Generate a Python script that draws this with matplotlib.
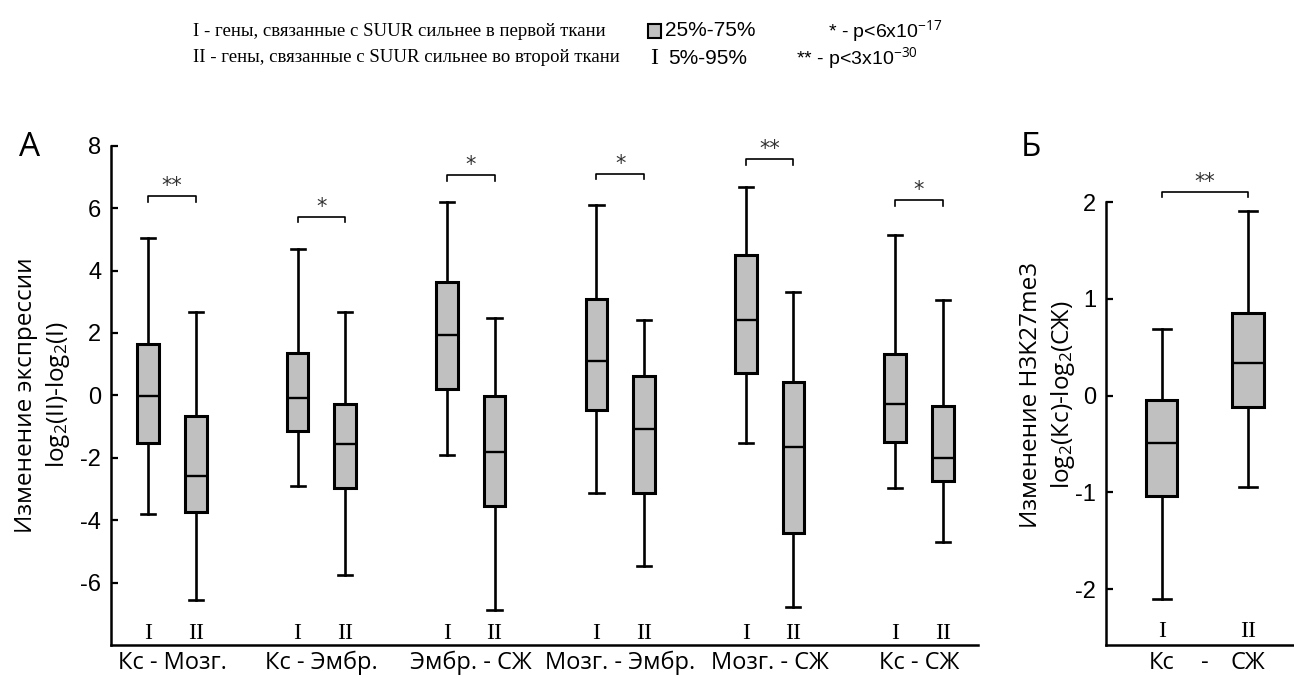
import matplotlib.pyplot as plt
from matplotlib.patches import Rectangle

plt.rcParams['mathtext.fontset'] = 'custom'
plt.rcParams['mathtext.rm'] = 'Open Sans'
plt.rcParams['mathtext.it'] = 'Open Sans:italic'
plt.rcParams['axes.unicode_minus'] = False

# данные: [нижний ус 5%, 25%, медиана, 75%, верхний ус 95%]
pairs = ['Кс - Мозг.', 'Кс - Эмбр.', 'Эмбр. - СЖ', 'Мозг. - Эмбр.', 'Мозг. - СЖ', 'Кс - СЖ']
genes_I = [[-3.80, -1.52, -0.02, 1.65, 5.05],
           [-2.92, -1.13, -0.07, 1.36, 4.70],
           [-1.92, 0.19, 1.92, 3.62, 6.18],
           [-3.12, -0.46, 1.09, 3.08, 6.10],
           [-1.52, 0.71, 2.40, 4.51, 6.69],
           [-2.98, -1.49, -0.27, 1.33, 5.14]]
genes_II = [[-6.55, -3.73, -2.57, -0.67, 2.67],
            [-5.76, -2.98, -1.56, -0.29, 2.67],
            [-6.89, -3.56, -1.83, -0.02, 2.47],
            [-5.48, -3.14, -1.09, 0.61, 2.40],
            [-6.79, -4.41, -1.67, 0.44, 3.32],
            [-4.71, -2.73, -2.01, -0.35, 3.04]]
signif = ['**', '*', '*', '*', '**', '*']
bracket_y = [6.38, 5.73, 7.05, 7.10, 7.56, 6.26]

h3_labels = ['Кс', 'СЖ']
h3_I = [-2.10, -1.04, -0.49, -0.04, 0.69]
h3_II = [-0.94, -0.12, 0.34, 0.86, 1.91]
h3_signif = '**'
h3_bracket_y = 2.11

box_color = '#c0c0c0'
W, H = 1294, 677


def stats(v):
    return dict(whislo=v[0], q1=v[1], med=v[2], q3=v[3], whishi=v[4], fliers=[])


def draw_boxes(ax, data, pos, width, capw):
    ax.bxp([stats(v) for v in data], positions=pos, widths=width, capwidths=capw,
           patch_artist=True, showfliers=False,
           boxprops=dict(facecolor=box_color, edgecolor='black', linewidth=2.2),
           whiskerprops=dict(color='black', linewidth=1.9),
           capprops=dict(color='black', linewidth=1.9),
           medianprops=dict(color='black', linewidth=1.7))


def bracket(ax, x1, x2, y, s, drop):
    ax.plot([x1, x1, x2, x2], [y - drop, y, y, y - drop], color='black', lw=1.2, clip_on=False)
    ax.annotate(s, xy=((x1 + x2) / 2, y), xytext=(0, 0), textcoords='offset points',
                ha='center', va='bottom', fontsize=15, family='DejaVu Sans', color='#333333')


fig = plt.figure(figsize=(W / 100, H / 100), dpi=100)

# ---- панель А
axA = fig.add_axes([111 / W, 1 - 645 / H, 867 / W, 499.3 / H])
off = 0.159
xc = [i + 1 for i in range(len(pairs))]
draw_boxes(axA, genes_I, [x - off for x in xc], 0.145, 0.095)
draw_boxes(axA, genes_II, [x + off for x in xc], 0.145, 0.095)
for x, s, y in zip(xc, signif, bracket_y):
    bracket(axA, x - off, x + off, y, s, 0.18)
    axA.text(x - off, -7.63, 'I', ha='center', va='center', family='Liberation Serif', fontsize=17)
    axA.text(x + off, -7.63, 'II', ha='center', va='center', family='Liberation Serif', fontsize=17)
axA.set_xlim(0.592, 6.395)
axA.set_ylim(-8, 8)
axA.set_yticks([-6, -4, -2, 0, 2, 4, 6, 8])
axA.set_xticks(xc)
axA.set_xticklabels(pairs, family='Open Sans', fontsize=17)

# ---- панель Б
axB = fig.add_axes([1106 / W, 1 - 645 / H, 188 / W, 499.3 / H])
draw_boxes(axB, [h3_I, h3_II], [1, 2], 0.36, 0.21)
bracket(axB, 1, 2, h3_bracket_y, h3_signif, 0.06)
axB.text(1, -2.44, 'I', ha='center', va='center', family='Liberation Serif', fontsize=17)
axB.text(2, -2.44, 'II', ha='center', va='center', family='Liberation Serif', fontsize=17)
axB.set_xlim(0.3546, 2.533)
axB.set_ylim(-2.578, 2.585)
axB.spines['left'].set_bounds(-2.578, 2)
axB.set_yticks([-2, -1, 0, 1, 2])
axB.set_xticks([1, 1.5, 2])
axB.set_xticklabels([h3_labels[0], '-', h3_labels[1]], family='Open Sans', fontsize=17)

for ax in (axA, axB):
    for side in ('top', 'right'):
        ax.spines[side].set_visible(False)
    for side in ('left', 'bottom'):
        ax.spines[side].set_linewidth(1.8)
    ax.tick_params(axis='y', direction='in', length=5, width=1.6, pad=7, labelsize=17)
    ax.tick_params(axis='x', length=0, pad=4)
    for lab in ax.get_yticklabels():
        lab.set_family('Liberation Sans')

# подписи осей
fig.text(43 / W, 1 - 395 / H, 'Изменение экспрессии\nlog$_2$(II)-log$_2$(I)', rotation=90,
         ha='center', va='center', multialignment='center', family='Open Sans',
         fontsize=17.5, linespacing=1.3)
fig.text(1048 / W, 1 - 395 / H, 'Изменение H3K27me3\nlog$_2$(Кс)-log$_2$(СЖ)', rotation=90,
         ha='center', va='center', multialignment='center', family='Open Sans',
         fontsize=17.5, linespacing=1.3)
fig.text(30 / W, 1 - 148 / H, 'А', ha='center', va='center', family='Open Sans', fontsize=24)
fig.text(1031 / W, 1 - 148 / H, 'Б', ha='center', va='center', family='Open Sans', fontsize=24)

# легенда сверху
fig.text(193 / W, 1 - 31 / H, 'I - гены, связанные с SUUR сильнее в первой ткани',
         ha='left', va='center', family='Liberation Serif', fontsize=13.5)
fig.text(193 / W, 1 - 58 / H, 'II - гены, связанные с SUUR сильнее во второй ткани',
         ha='left', va='center', family='Liberation Serif', fontsize=13.5)
fig.patches.append(Rectangle((648 / W, 1 - 38 / H), 13 / W, 14 / H, transform=fig.transFigure,
                             facecolor=box_color, edgecolor='black', linewidth=1.5))
fig.text(665 / W, 1 - 31 / H, '25%-75%', ha='left', va='center', family='Liberation Sans', fontsize=15)
fig.text(654 / W, 1 - 58 / H, 'I', ha='center', va='center', family='Liberation Serif', fontsize=17)
fig.text(668 / W, 1 - 58 / H, '5%-95%', ha='left', va='center', family='Liberation Sans', fontsize=15)
fig.text(828 / W, 1 - 31 / H, '* - p<6x10$^{-17}$', ha='left', va='center',
         family='Liberation Sans', fontsize=14)
fig.text(796 / W, 1 - 58 / H, '** - p<3x10$^{-30}$', ha='left', va='center',
         family='Liberation Sans', fontsize=14)

fig.savefig('out.png', dpi=100)
